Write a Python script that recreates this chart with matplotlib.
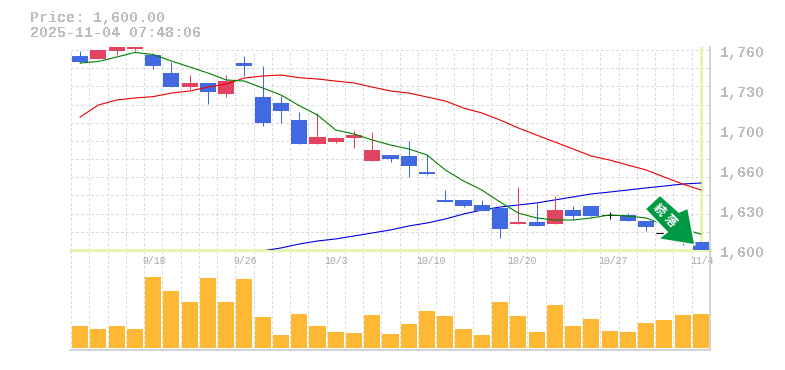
import matplotlib
matplotlib.use('Agg')
import numpy as np
import matplotlib.pyplot as plt
from matplotlib.patches import Polygon

# daily data
dates = ['9/18', '9/26', '10/3', '10/10', '10/20', '10/27', '11/4']
date_idx = [4, 9, 14, 19, 24, 29, 34]

opens = [1762, 1759, 1766, 1767.5, 1762.5, 1747.5, 1736, 1739, 1730, 1756, 1727.5, 1722.5,
         1708, 1688, 1690, 1693, 1674, 1679, 1678, 1665, 1642, 1642, 1637.5, 1635,
         1622, 1623, 1622, 1633, 1637, 1629, 1629, 1624, 1614, 1612, 1607]
closes = [1757, 1767, 1772, 1772, 1753, 1736, 1739, 1732, 1741, 1753, 1706, 1716,
          1688, 1694, 1693, 1696, 1683, 1676, 1670, 1663, 1640, 1637, 1632.5, 1617.5,
          1623, 1620, 1633, 1628, 1628, 1629, 1624, 1619, 1614, 1606, 1600]
highs = [1766, 1767, 1772, 1772, 1762.5, 1757, 1746, 1739, 1746, 1762, 1753, 1728,
         1715, 1714, 1694, 1699, 1698, 1679, 1691, 1679, 1650, 1642, 1642, 1635,
         1652.5, 1639, 1645, 1637, 1637, 1632, 1631, 1624, 1614, 1613, 1607]
lows = [1756, 1759, 1762.5, 1766, 1751, 1736, 1734, 1722, 1727.5, 1745, 1703, 1706,
        1688, 1688, 1689, 1685, 1674, 1673, 1661, 1662.5, 1640, 1636, 1632.5, 1610,
        1622, 1620, 1622, 1626, 1628, 1626, 1624, 1616, 1614, 1604, 1600]

ma_short = [1755.8, 1757.1, 1760.8, 1764.6, 1762.9, 1757.5, 1752.5, 1747.5, 1741.7, 1740.8,
            1735, 1729.2, 1720.3, 1712.5, 1700, 1696.7, 1691.7, 1687.5, 1684.2, 1679.2,
            1666.7, 1657.5, 1650, 1640, 1630.8, 1626.7, 1625, 1625, 1626.7, 1629.2,
            1628.3, 1626.7, 1620.8, 1617.5, 1613.3]
ma_mid = [1710.8, 1720.8, 1725, 1726.7, 1727.8, 1730.8, 1732.5, 1735.8, 1738.3, 1743.3,
          1745, 1745.8, 1743.6, 1742.5, 1740.8, 1739.2, 1735.8, 1732.5, 1730.8, 1727.5,
          1724.2, 1718.3, 1714.2, 1708.3, 1701.7, 1695.8, 1690, 1684.2, 1678.3, 1675,
          1670.8, 1666.7, 1660.8, 1655, 1650]
ma_long = [np.nan] * 10 + [1599.2, 1601.7, 1605, 1607.5, 1609.2, 1611.7, 1614.2, 1616.7, 1620,
                           1622.5, 1625.8, 1630, 1633.3, 1635.8, 1637.5, 1639.2, 1641.7,
                           1644.2, 1646.7, 1648.3, 1650, 1651.7, 1653.3, 1655, 1655.8]

volumes = [67, 58, 67, 58, 214, 172, 139, 211, 139, 208, 94, 40, 103, 67, 49, 46, 100, 43,
           73, 112, 97, 58, 40, 139, 97, 49, 130, 67, 88, 52, 49, 76, 85, 100, 103]

price_ticks = [1766.67, 1733.33, 1700, 1666.67, 1633.33, 1600]
price_labels = ['1,760', '1,730', '1,700', '1,660', '1,630', '1,600']

BLUE = '#4169e1'
RED = '#e24360'
GRID = '#dcdcdc'
TXT = '#bcbcbc'
PALE = '#e6f5b0'
MONO = 'Liberation Mono'
W, H = 785, 370
x = np.arange(len(opens))

# the original is a bitmap chart, no smoothing on the big text
plt.rcParams['text.antialiased'] = False


def box(left, top, right, bottom):
    return [left / W, 1 - bottom / H, (right - left) / W, (bottom - top) / H]


fig = plt.figure(figsize=(7.85, 3.7), dpi=100)
ax = fig.add_axes(box(71, 47, 710, 250))
vol = fig.add_axes(box(71, 250, 710, 348))

# one pixel is 5/6 of a yen
ax.set_ylim(1600, 1600 + 203 * 5 / 6)
ax.set_xlim(-0.5, 34.5)
vol.set_xlim(-0.5, 34.5)
vol.set_ylim(0, 294)

for a in (ax, vol):
    a.set_facecolor('none')
    a.set_xticks([])
    a.set_yticks([])
    for s in a.spines.values():
        s.set_visible(False)

top = 1600 + 200 * 5 / 6
dash = (0, (3, 3))
for g in np.arange(35) - 0.5:
    ax.vlines(g, 1600, top, color=GRID, lw=0.7, ls=dash, zorder=1, antialiased=False)
    vol.vlines(g, 0, 294, color=GRID, lw=0.7, ls=dash, zorder=1, antialiased=False)
for g in np.linspace(1600, top, 12):
    ax.hlines(g, -0.5, 34.5, color=GRID, lw=0.7, ls=dash, zorder=1, antialiased=False)

# last price crosshair
ax.axhline(1600, color=PALE, lw=2.2, zorder=2, clip_on=False)
ax.axvline(34, color=PALE, lw=2.2, zorder=2)

ax.plot(x, ma_long, color='#0000ee', lw=0.8, zorder=3)
for i in x:
    if closes[i] == opens[i]:
        c = 'black'
    elif closes[i] > opens[i]:
        c = RED
    else:
        c = BLUE
    ax.vlines(i, lows[i], highs[i], color=c, lw=0.75, zorder=4)
    if c == 'black':
        ax.hlines(closes[i], i - 0.44, i + 0.44, color=c, lw=0.75, zorder=4)
    else:
        ax.bar(i, abs(closes[i] - opens[i]), bottom=min(opens[i], closes[i]), width=0.88,
               color=c, zorder=4)
ax.plot(x, ma_mid, color='#ee0000', lw=0.8, zorder=5)
ax.plot(x, ma_short, color='#008000', lw=0.8, zorder=5)

vol.bar(x, volumes, width=0.88, color='#ffb834', zorder=3)

# border right and bottom
fig.add_artist(plt.Line2D([710 / W, 710 / W], [1 - 47 / H, 1 - 350 / H], color='#c8c8c8', lw=1.1))
fig.add_artist(plt.Line2D([70 / W, 710 / W], [1 - 350 / H, 1 - 350 / H], color='#c8c8c8', lw=1.1))

for p, lab in zip(price_ticks, price_labels):
    ax.annotate(lab, xy=(1, p), xycoords=ax.get_yaxis_transform(), xytext=(10, -3),
                textcoords='offset pixels', ha='left', va='center', color=TXT,
                family=MONO, fontsize=10.8, weight='bold', annotation_clip=False)
for i, lab in zip(date_idx, dates):
    vol.annotate(lab, xy=(i, 294), xycoords='data', xytext=(-11, -11), textcoords='offset pixels',
                 ha='left', va='center', color='#a8a8a8', family=MONO, fontsize=7.1,
                 annotation_clip=False, zorder=6, antialiased=True)

fig.text(30 / W, 1 - 18 / H, 'Price: 1,600.00', color=TXT, family=MONO,
         fontsize=10.8, weight='bold', va='center')
fig.text(30 / W, 1 - 33 / H, '2025-11-04 07:48:06', color=TXT, family=MONO,
         fontsize=10.8, weight='bold', va='center')

# arrow badge, in pixels
arrow_px = [(660, 195), (679, 212), (688, 208), (695, 245), (658, 239), (667, 232), (645, 209)]
arrow = [(px / W, 1 - py / H) for px, py in arrow_px]
fig.add_artist(Polygon(arrow, closed=True, transform=fig.transFigure, facecolor='#009944',
                       edgecolor='white', lw=1.2, zorder=10))
fig.text(659 / W, 1 - 210 / H, '続', color='white', family='Noto Sans CJK JP', fontsize=8.5,
         weight='bold', rotation=-45, ha='center', va='center', zorder=11, antialiased=True)
fig.text(670 / W, 1 - 221 / H, '落', color='white', family='Noto Sans CJK JP', fontsize=8.5,
         weight='bold', rotation=-45, ha='center', va='center', zorder=11, antialiased=True)

fig.savefig('out.png', dpi=100)
